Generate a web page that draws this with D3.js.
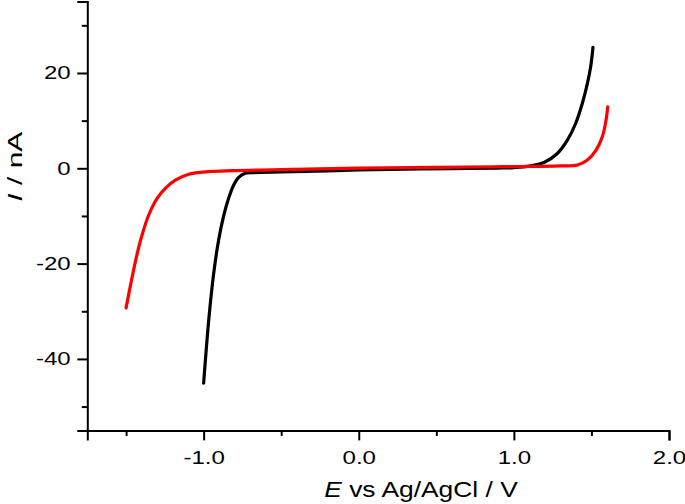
<!DOCTYPE html>
<html>
<head>
<meta charset="utf-8">
<script src="https://cdn.jsdelivr.net/npm/d3@7"></script>
<style>
  body { margin: 0; background: #fff; }
  svg { display: block; font-family: "Liberation Sans", Arial, sans-serif; }
</style>
</head>
<body>
<div id="chart"></div>
<script>
// black curve (E in V, I in nA)
const blackE = [-1.0, -0.967, -0.935, -0.903, -0.871, -0.838, -0.806, -0.774, -0.731, -0.68, -0.5, -0.2, 0.0, 0.3, 0.6, 0.9, 1.0, 1.108, 1.194, 1.28, 1.345, 1.398, 1.441, 1.474, 1.495, 1.51];
const blackI = [-45.1, -31.8, -22.0, -15.0, -10.0, -6.2, -3.5, -1.9, -1.05, -0.9, -0.75, -0.55, -0.35, -0.2, -0.05, 0.05, 0.15, 0.5, 1.2, 3.1, 5.9, 9.4, 13.6, 17.8, 21.3, 25.4];

// red curve
const redE = [-1.5, -1.462, -1.429, -1.397, -1.354, -1.30, -1.247, -1.182, -1.096, -0.967, -0.816, -0.5, 0.0, 0.5, 0.915, 1.30, 1.41, 1.474, 1.53, 1.57, 1.594, 1.605];
const redI = [-29.3, -23.0, -18.0, -14.0, -9.8, -6.3, -4.2, -2.5, -1.26, -0.71, -0.5, -0.3, 0.05, 0.2, 0.34, 0.5, 0.7, 1.74, 3.8, 6.6, 10.1, 12.9];

// ticks
const xMajor = [-1, 0, 1, 2];
const xMinor = [-1.5, -0.5, 0.5, 1.5];
const xLabels = ["-1.0", "0.0", "1.0", "2.0"];
const yMajor = [-40, -20, 0, 20];
const yMinor = [-50, -30, -10, 10, 30];
const yLabels = ["-40", "-20", "0", "20"];

const width = 685, height = 504;
const margin = {top: 1.5, right: 16, bottom: 73.6, left: 87.3};

const svg = d3.select("#chart").append("svg")
    .attr("width", width)
    .attr("height", height);

const x = d3.scaleLinear()
    .domain([-1.75, 2.0])
    .range([margin.left, width - margin.right]);

const y = d3.scaleLinear()
    .domain([-55, 35])
    .range([height - margin.bottom, margin.top]);

const x0 = height - margin.bottom;

// x axis
const gx = svg.append("g")
    .attr("transform", `translate(0,${x0})`)
    .call(d3.axisBottom(x).tickValues(xMajor).tickSize(10)
        .tickFormat((d, i) => xLabels[i]));
gx.select(".domain").attr("stroke-width", 2);
gx.selectAll(".tick line").attr("stroke-width", 2);
gx.selectAll(".tick text")
    .attr("y", 0).attr("dy", 0)
    .attr("transform", "translate(0,33.5) scale(1.3,1)")
    .attr("font-size", 18.5)
    .attr("font-family", "Liberation Sans, Arial, sans-serif")
    .attr("fill", "#000");

svg.append("g")
    .attr("transform", `translate(0,${x0})`)
    .call(d3.axisBottom(x).tickValues(xMinor).tickSize(5.5).tickFormat(""))
    .call(g => g.select(".domain").remove())
    .selectAll(".tick line").attr("stroke-width", 2);

// y axis
const gy = svg.append("g")
    .attr("transform", `translate(${margin.left},0)`)
    .call(d3.axisLeft(y).tickValues(yMajor).tickSize(10)
        .tickFormat((d, i) => yLabels[i]));
gy.select(".domain").attr("stroke-width", 2);
gy.selectAll(".tick line").attr("stroke-width", 2);
gy.selectAll(".tick text")
    .attr("x", 0)
    .attr("transform", "translate(-16.6,0) scale(1.3,1)")
    .attr("font-size", 18.5)
    .attr("font-family", "Liberation Sans, Arial, sans-serif")
    .attr("fill", "#000");

svg.append("g")
    .attr("transform", `translate(${margin.left},0)`)
    .call(d3.axisLeft(y).tickValues(yMinor).tickSize(5.5).tickFormat(""))
    .call(g => g.select(".domain").remove())
    .selectAll(".tick line").attr("stroke-width", 2);

// curves
const line = d3.line()
    .x(d => x(d[0]))
    .y(d => y(d[1]))
    .curve(d3.curveCatmullRom.alpha(0.5));

svg.append("path")
    .datum(blackE.map((e, i) => [e, blackI[i]]))
    .attr("fill", "none")
    .attr("stroke", "#000")
    .attr("stroke-width", 3.2)
    .attr("stroke-linecap", "round")
    .attr("stroke-linejoin", "round")
    .attr("d", line);

svg.append("path")
    .datum(redE.map((e, i) => [e, redI[i]]))
    .attr("fill", "none")
    .attr("stroke", "#ff0000")
    .attr("stroke-width", 3.2)
    .attr("stroke-linecap", "round")
    .attr("stroke-linejoin", "round")
    .attr("d", line);

// axis titles
const xt = svg.append("text")
    .attr("transform", "translate(421,497) scale(1.2,1)")
    .attr("text-anchor", "middle")
    .attr("font-size", 22);
xt.append("tspan").attr("font-style", "italic").text("E");
xt.append("tspan").text(" vs Ag/AgCl / V");

const yt = svg.append("text")
    .attr("transform", "translate(21.7,166.7) rotate(-90) scale(1.5,1)")
    .attr("text-anchor", "middle")
    .attr("font-size", 20);
yt.append("tspan").attr("font-style", "italic").text("I");
yt.append("tspan").text(" / nA");
</script>
</body>
</html>
